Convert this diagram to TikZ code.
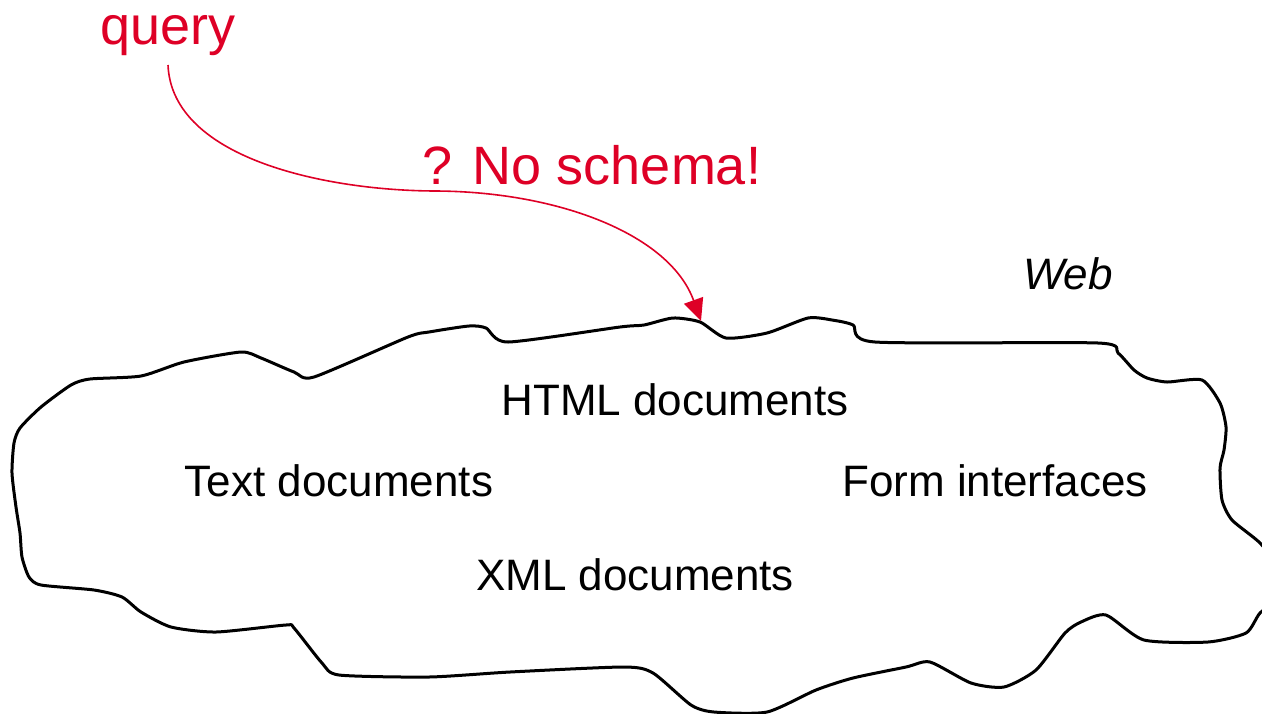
\documentclass[tikz,border=0pt]{standalone}
\usepackage{fontspec}
\setmainfont{Liberation Sans}
\usetikzlibrary{arrows.meta}
\definecolor{qred}{RGB}{222,0,38}
\tikzset{
  blacktext/.style={inner sep=0pt, anchor=base, font=\fontsize{22}{26}\selectfont},
  redtext/.style={inner sep=0pt, anchor=base, text=qred, font=\fontsize{27}{32}\selectfont},
  cloudline/.style={line width=1.5pt, line join=round},
  queryarrow/.style={draw=qred, line width=0.8pt, -{Triangle[length=11pt,width=10pt]}, qred}
}
\begin{document}
\begin{tikzpicture}[x=0.5pt,y=-0.5pt]
\useasboundingbox (0,0) rectangle (1262,713);
\clip (0,0) rectangle (1262,713);
% cloud
\draw[cloudline] plot[smooth cycle, tension=0.4] coordinates {
(12,473) (14,443) (20,428) (41,407) (71,385) (90,379) (141,376) (184,362) (241,352) (261,358) (294,372) (314,377) (408,337) (429,332) (469,326) (486,328) (508,342) (620,327) (644,325) (673,318) (700,322) (726,338) (767,333) (808,318) (832,320) (853,325) (875,342) (1098,343) (1118,353) (1134,370) (1147,378) (1167,382) (1202,380) (1220,403) (1226,427) (1224,450) (1220,468) (1222,500) (1232,520) (1260,543) (1280,570) (1282,595) (1260,613) (1246,633) (1208,642) (1144,640) (1106,615) (1081,622) (1065,633) (1036,670) (1004,687) (971,683) (930,662) (906,667) (853,678) (816,690) (767,712) (714,712) (691,705) (653,673) (624,667) (510,672) (429,677) (339,675) (322,663) (294,628) (286,625) (216,632) (171,627) (141,612) (122,597) (94,590) (41,585) (29,577) (22,557) (20,533) (16,507)};
% labels
\node[blacktext] (html) at (675,415) {HTML documents};
\node[blacktext] (text) at (339,496) {Text documents};
\node[blacktext] (form) at (995,496) {Form interfaces};
\node[blacktext] (xml) at (635,590) {XML documents};
\node[blacktext, font=\fontsize{22}{26}\selectfont\itshape] (web) at (1068,289) {Web};
\node[redtext] (query) at (168,44) {query};
\node[redtext] (noschema) at (592,184) {? No schema!};
% arrow
\coordinate (qstart) at (168,65);
\coordinate (tip) at (701,321);
\draw[queryarrow] (qstart) .. controls (172,160) and (330,191) .. (437,191)
  .. controls (560,192) and (670,235) .. (tip);
\end{tikzpicture}
\end{document}
